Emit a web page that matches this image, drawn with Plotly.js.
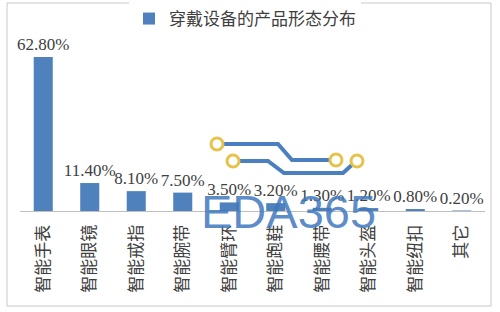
<!DOCTYPE html>
<html>
<head>
<meta charset="utf-8">
<script src="https://cdn.plot.ly/plotly-3.0.1.min.js"></script>
<style>
html,body{margin:0;padding:0;background:#fff;}
#chart{width:500px;height:312px;}
</style>
</head>
<body>
<div id="chart"></div>
<script>
const categories = ["智能手表","智能眼镜","智能戒指","智能腕带","智能臂环","智能跑鞋","智能腰带","智能头盔","智能纽扣","其它"];
const shares = [62.8, 11.4, 8.1, 7.5, 3.5, 3.2, 1.3, 1.2, 0.8, 0.2];
const seriesName = "穿戴设备的产品形态分布";

// pixel -> paper helpers for decoration (plot area: x 20..485, y 40..211)
const L = 20, R = 15, T = 40, B = 101, W = 500, H = 312;
const pw = W - L - R, ph = H - T - B;
const px = x => (x - L) / pw;
const py = y => (H - B - y) / ph;
const path = pts => pts.map((p, i) => (i ? 'L' : 'M') + px(p[0]).toFixed(4) + ',' + py(p[1]).toFixed(4)).join(' ');
const circ = (cx, cy, r) => ({type:'circle', xref:'paper', yref:'paper',
  x0:px(cx-r), x1:px(cx+r), y0:py(cy+r), y1:py(cy-r),
  line:{color:'#e6c24a', width:3}, fillcolor:'#ffffff', layer:'above'});

const trace = {
  type: 'bar',
  x: categories,
  y: shares,
  name: seriesName,
  marker: {color: '#4f81bd'},
  texttemplate: '%{y:.2f}%',
  textposition: 'outside',
  constraintext: 'none',
  cliponaxis: false,
  textfont: {family: 'Liberation Serif, serif', size: 17, color: '#404040'},
  hoverinfo: 'x+y'
};

const layout = {
  width: W, height: H,
  margin: {l: L, r: R, t: T, b: B, autoexpand: false},
  paper_bgcolor: '#ffffff',
  plot_bgcolor: '#ffffff',
  bargap: 0.59,
  showlegend: true,
  legend: {orientation: 'h', x: px(245), xanchor: 'center', y: py(19), yanchor: 'middle',
    font: {family: 'Noto Sans CJK SC, sans-serif', size: 17, color: '#404040'}},
  xaxis: {
    type: 'category',
    tickangle: -90,
    ticklabelstandoff: 6,
    tickfont: {family: 'Noto Sans CJK SC, sans-serif', size: 17, color: '#404040'},
    showline: true, linecolor: '#bfbfbf', linewidth: 1,
    ticks: '', showgrid: false, zeroline: false, fixedrange: true
  },
  yaxis: {visible: false, range: [0, ph / ((211 - 57) / 62.8)], showgrid: false, zeroline: false, fixedrange: true},
  shapes: [
    {type:'rect', xref:'paper', yref:'paper', x0:px(7), x1:px(491), y0:py(306), y1:py(3),
     line:{color:'#c8c8c8', width:1}, fillcolor:'rgba(0,0,0,0)', layer:'below'},
    {type:'path', xref:'paper', yref:'paper', path: path([[222,144],[278,144],[292,160],[332,160]]),
     line:{color:'#4a7fc0', width:4}, layer:'above'},
    {type:'path', xref:'paper', yref:'paper', path: path([[238,161],[268,161],[284,173],[343,173],[354,163]]),
     line:{color:'#4a7fc0', width:4}, layer:'above'},
    circ(217,144,6), circ(233,161,6), circ(336,160,6), circ(357,161,6)
  ],
  annotations: [
    {xref:'paper', yref:'paper', x: px(288), y: py(211), xanchor:'center', yanchor:'middle',
     text:'EDA365', showarrow:false,
     font:{family:'Liberation Sans, Arial, sans-serif', size:47, color:'rgba(62,120,190,0.85)'}}
  ]
};

Plotly.newPlot('chart', [trace], layout, {displayModeBar: false, staticPlot: true});
</script>
</body>
</html>
